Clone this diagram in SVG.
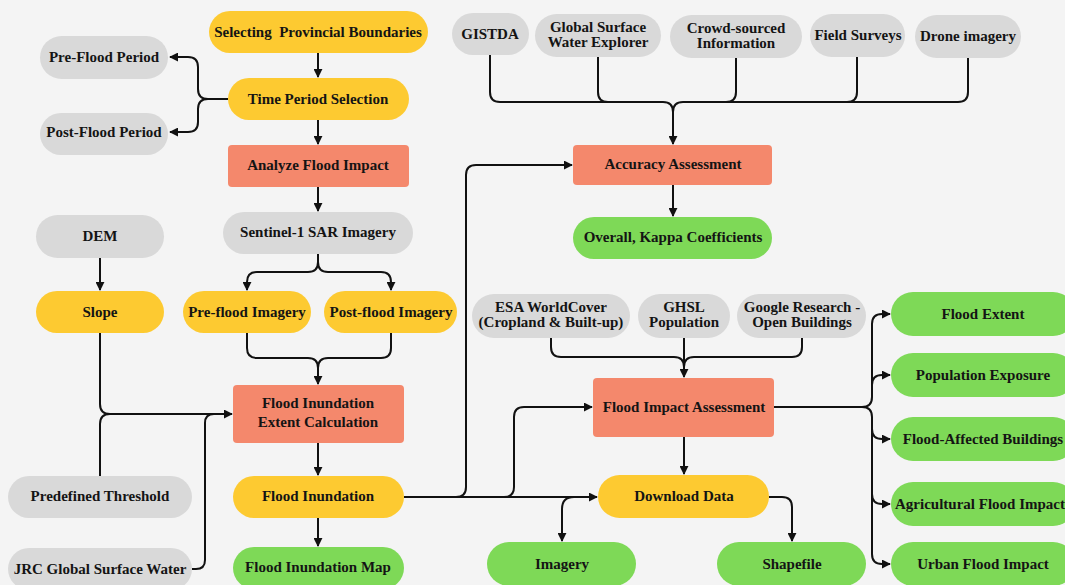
<svg xmlns="http://www.w3.org/2000/svg" width="1065" height="585" viewBox="0 0 1065 585">
<style>
text{font-family:"Liberation Serif","Times New Roman",serif;font-weight:bold;font-size:15px;fill:#141414;text-anchor:middle}
.y{fill:#fdca31}
.s{fill:#f4886c}
.g{fill:#7ed957}
.k{fill:#d9d9d9}
.c path{fill:none;stroke:#111;stroke-width:2}
.a{marker-end:url(#ah)}
</style>
<defs>
<marker id="ah" viewBox="0 0 10 10" refX="9" refY="5" markerWidth="4.5" markerHeight="4.5" orient="auto"><path d="M0,0 L10,5 L0,10 z" fill="#111"/></marker>
</defs>
<rect width="1065" height="585" fill="#f4f4f4"/>

<g id="connectors" class="c">
<path class="a" d="M318,53 V77"/>
<path class="a" d="M318,120 V144"/>
<path class="a" d="M318,187 V211"/>
<path class="a" d="M228,99 H208 Q198,99 198,89 V67 Q198,57 188,57 H170"/>
<path class="a" d="M208,99 Q198,99 198,109 V122 Q198,132 188,132 H170"/>
<path class="a" d="M318,254 V262 Q318,272 308,272 H257 Q247,272 247,282 V290"/>
<path class="a" d="M318,262 Q318,272 328,272 H381 Q391,272 391,282 V290"/>
<path class="a" d="M247,333 V348 Q247,358 257,358 H308 Q318,358 318,368 V384"/>
<path d="M391,333 V348 Q391,358 381,358 H328 Q318,358 318,368"/>
<path class="a" d="M100,258 V290"/>
<path class="a" d="M100,333 V404 Q100,414 110,414 H232"/>
<path d="M100,476 V424 Q100,414 110,414"/>
<path d="M192,569 H196 Q205,569 205,560 V423 Q205,414 214,414"/>
<path class="a" d="M318,443 V475"/>
<path class="a" d="M318,518 V546"/>
<path class="a" d="M404,497 H597"/>
<path class="a" d="M456,497 Q466,497 466,487 V175 Q466,165 476,165 H572"/>
<path class="a" d="M504,497 Q514,497 514,487 V417 Q514,407 524,407 H592"/>
<path class="a" d="M574,497 Q562,497 562,509 V541"/>
<path class="a" d="M769,497 H782 Q792,497 792,507 V541"/>
<path class="a" d="M684,437 V474"/>
<path class="a" d="M490,55 V92 Q490,102 500,102 H663 Q673,102 673,112 V144"/>
<path d="M968,58 V92 Q968,102 958,102 H683 Q673,102 673,112"/>
<path d="M598,57 V92 Q598,102 608,102"/>
<path d="M736,58 V92 Q736,102 726,102"/>
<path d="M857,57 V92 Q857,102 847,102"/>
<path class="a" d="M673,185 V216"/>
<path class="a" d="M551,338 V347 Q551,357 561,357 H674 Q684,357 684,367 V377"/>
<path d="M802,338 V347 Q802,357 792,357 H694 Q684,357 684,367"/>
<path d="M684,338 V367"/>
<path class="a" d="M774,407 H862 Q872,407 872,397 V324 Q872,314 882,314 H890"/>
<path class="a" d="M872,385 Q872,375 882,375 H890"/>
<path class="a" d="M862,407 Q872,407 872,417 V554 Q872,564 882,564 H890"/>
<path class="a" d="M872,429 Q872,439 882,439 H890"/>
<path class="a" d="M872,494 Q872,504 882,504 H890"/>
</g>

<g id="n-selecting"><rect class="y" x="209" y="11" width="219" height="42" rx="21"/><text x="318" y="37" style="white-space:pre">Selecting  Provincial Boundaries</text></g>
<g id="n-preflood-period"><rect class="k" x="40" y="36" width="128" height="43" rx="21.5"/><text x="104" y="62">Pre-Flood Period</text></g>
<g id="n-time"><rect class="y" x="228" y="78" width="181" height="42" rx="21"/><text x="318" y="104">Time Period Selection</text></g>
<g id="n-postflood-period"><rect class="k" x="40" y="113" width="128" height="42" rx="21"/><text x="104" y="137">Post-Flood Period</text></g>
<g id="n-analyze"><rect class="s" x="228" y="145" width="181" height="42" rx="4"/><text x="318" y="170">Analyze Flood Impact</text></g>
<g id="n-sentinel"><rect class="k" x="223" y="212" width="190" height="42" rx="21"/><text x="318" y="237">Sentinel-1 SAR Imagery</text></g>
<g id="n-dem"><rect class="k" x="36" y="215" width="128" height="43" rx="21.5"/><text x="100" y="241">DEM</text></g>
<g id="n-slope"><rect class="y" x="36" y="291" width="128" height="42" rx="21"/><text x="100" y="317">Slope</text></g>
<g id="n-pre-imagery"><rect class="y" x="183" y="291" width="128" height="42" rx="21"/><text x="247" y="317">Pre-flood Imagery</text></g>
<g id="n-post-imagery"><rect class="y" x="324" y="291" width="133" height="42" rx="21"/><text x="391" y="317">Post-flood Imagery</text></g>
<g id="n-fiec"><rect class="s" x="233" y="385" width="171" height="58" rx="4"/><text x="318" y="408">Flood Inundation</text><text x="318" y="427">Extent Calculation</text></g>
<g id="n-threshold"><rect class="k" x="8" y="476" width="184" height="42" rx="21"/><text x="100" y="501">Predefined Threshold</text></g>
<g id="n-jrc"><rect class="k" x="8" y="548" width="184" height="42" rx="21"/><text x="100" y="574">JRC Global Surface Water</text></g>
<g id="n-fi"><rect class="y" x="233" y="476" width="171" height="42" rx="21"/><text x="318" y="501">Flood Inundation</text></g>
<g id="n-fim"><rect class="g" x="233" y="547" width="171" height="42" rx="21"/><text x="318" y="572">Flood Inundation Map</text></g>

<g id="n-gistda"><rect class="k" x="452" y="13" width="77" height="42" rx="21"/><text x="490" y="39">GISTDA</text></g>
<g id="n-gswe"><rect class="k" x="535" y="14" width="126" height="43" rx="21.5"/><text x="598" y="32">Global Surface</text><text x="598" y="47">Water Explorer</text></g>
<g id="n-crowd"><rect class="k" x="670" y="15" width="132" height="43" rx="21.5"/><text x="736" y="33">Crowd-sourced</text><text x="736" y="48">Information</text></g>
<g id="n-field"><rect class="k" x="810" y="14" width="95" height="43" rx="21.5"/><text x="858" y="40">Field Surveys</text></g>
<g id="n-drone"><rect class="k" x="915" y="15" width="106" height="43" rx="21.5"/><text x="968" y="41">Drone imagery</text></g>
<g id="n-accuracy"><rect class="s" x="573" y="145" width="199" height="40" rx="4"/><text x="673" y="169">Accuracy Assessment</text></g>
<g id="n-kappa"><rect class="g" x="573" y="217" width="199" height="42" rx="21"/><text x="673" y="242">Overall, Kappa Coefficients</text></g>

<g id="n-esa"><rect class="k" x="472" y="294" width="158" height="44" rx="22"/><text x="551" y="312">ESA WorldCover</text><text x="551" y="327">(Cropland &amp; Built-up)</text></g>
<g id="n-ghsl"><rect class="k" x="638" y="294" width="92" height="44" rx="22"/><text x="684" y="312">GHSL</text><text x="684" y="327">Population</text></g>
<g id="n-google"><rect class="k" x="737" y="294" width="129" height="44" rx="22"/><text x="802" y="312">Google Research -</text><text x="802" y="327">Open Buildings</text></g>
<g id="n-fia"><rect class="s" x="593" y="378" width="181" height="59" rx="4"/><text x="684" y="412">Flood Impact Assessment</text></g>
<g id="n-download"><rect class="y" x="598" y="475" width="171" height="43" rx="21.5"/><text x="684" y="501">Download Data</text></g>
<g id="n-imagery"><rect class="g" x="487" y="542" width="149" height="44" rx="22"/><text x="562" y="569">Imagery</text></g>
<g id="n-shapefile"><rect class="g" x="717" y="542" width="149" height="44" rx="22"/><text x="792" y="569">Shapefile</text></g>

<g id="n-extent"><rect class="g" x="891" y="292" width="184" height="44" rx="22"/><text x="983" y="319">Flood Extent</text></g>
<g id="n-population"><rect class="g" x="891" y="353" width="184" height="44" rx="22"/><text x="983" y="380">Population Exposure</text></g>
<g id="n-buildings"><rect class="g" x="891" y="417" width="184" height="44" rx="22"/><text x="983" y="444">Flood-Affected Buildings</text></g>
<g id="n-agri"><rect class="g" x="891" y="482" width="184" height="44" rx="22"/><text x="980" y="509">Agricultural Flood Impact</text></g>
<g id="n-urban"><rect class="g" x="891" y="542" width="184" height="44" rx="22"/><text x="983" y="569">Urban Flood Impact</text></g>
</svg>
